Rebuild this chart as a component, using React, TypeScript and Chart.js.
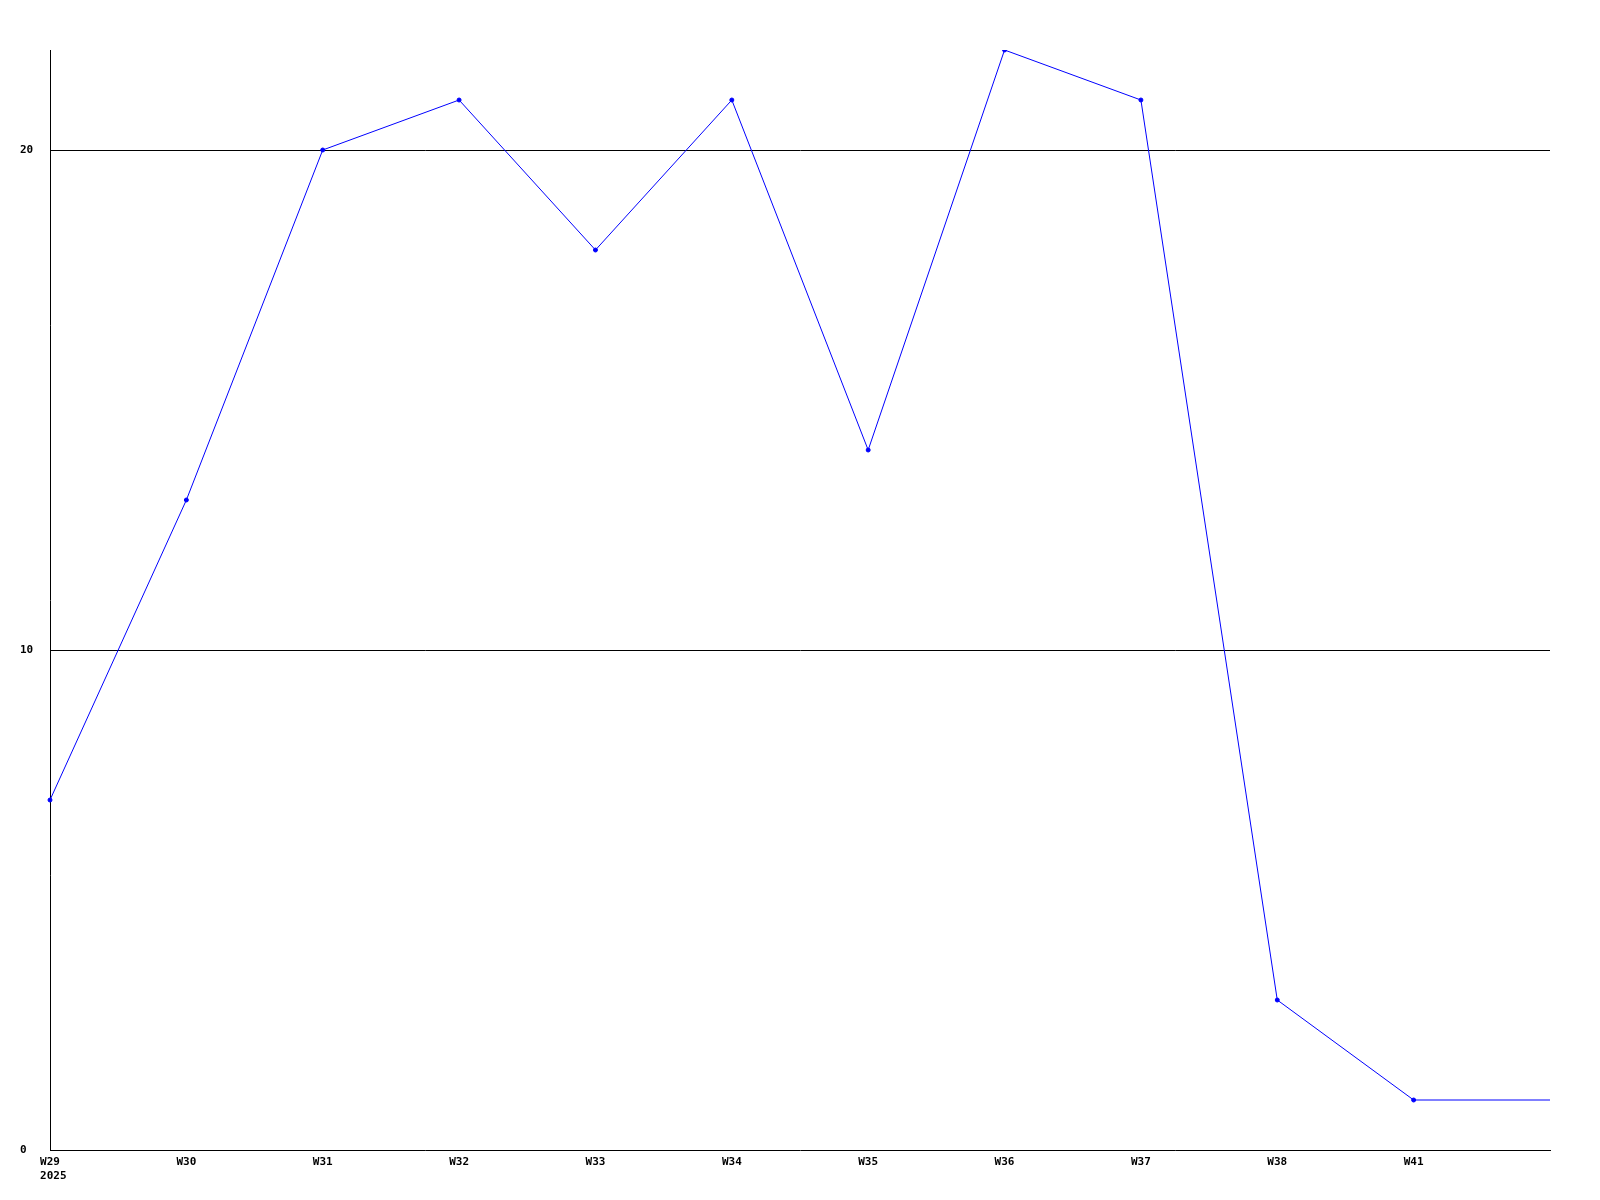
import React, { useEffect, useRef } from "react";
import { Chart, registerables } from "chart.js";

Chart.register(...registerables);

const weekLabels: (string | string[])[] = [["W29", " 2025"], "W30", "W31", "W32", "W33", "W34", "W35", "W36", "W37", "W38", "W41", ""];
const seriesValues: number[] = [7, 13, 20, 21, 18, 21, 14, 22, 21, 3, 1, 1];
const yTickValues: number[] = [0, 10, 20];
const yMax = 22;

export default function App() {
  const ref = useRef<HTMLCanvasElement | null>(null);
  useEffect(() => {
    if (!ref.current) return;
    const font = { family: "'DejaVu Sans Mono', monospace", size: 11, weight: "bold" as const };
    const chart = new Chart(ref.current, {
      type: "line",
      data: {
        labels: weekLabels,
        datasets: [
          {
            data: seriesValues,
            borderColor: "#0000ff",
            backgroundColor: "#0000ff",
            borderWidth: 1,
            pointRadius: seriesValues.map((_, i) => (i === seriesValues.length - 1 ? 0 : 2)),
            pointStyle: "circle",
            tension: 0,
            fill: false,
          },
        ],
      },
      options: {
        animation: false,
        responsive: false,
        maintainAspectRatio: false,
        layout: { padding: { top: 50, right: 50, left: 20, bottom: 0 } },
        plugins: { legend: { display: false }, tooltip: { enabled: false } },
        scales: {
          x: {
            type: "category",
            offset: false,
            grid: { display: false, drawTicks: false },
            border: { display: true, color: "#000", width: 1 },
            ticks: { color: "#000", font, padding: 6, autoSkip: false, maxRotation: 0 },
            afterFit: (s: any) => { s.height = 50; },
          },
          y: {
            type: "linear",
            min: 0,
            max: yMax,
            afterBuildTicks: (s: any) => { s.ticks = yTickValues.map((v) => ({ value: v })); },
            grid: {
              drawTicks: false,
              color: (ctx: any) => (ctx.tick && ctx.tick.value === 0 ? "rgba(0,0,0,0)" : "#000"),
              lineWidth: 1,
            },
            border: { display: true, color: "#000", width: 1 },
            ticks: { color: "#000", font, padding: 17, crossAlign: "far" },
            afterFit: (s: any) => { s.width = 30; },
          },
        },
      },
    });
    return () => chart.destroy();
  }, []);
  return (
    <div style={{ position: "fixed", left: 0, top: 0, width: 1600, height: 1200, background: "#fff" }}>
      <canvas ref={ref} width={1600} height={1200} style={{ width: 1600, height: 1200 }} />
    </div>
  );
}
